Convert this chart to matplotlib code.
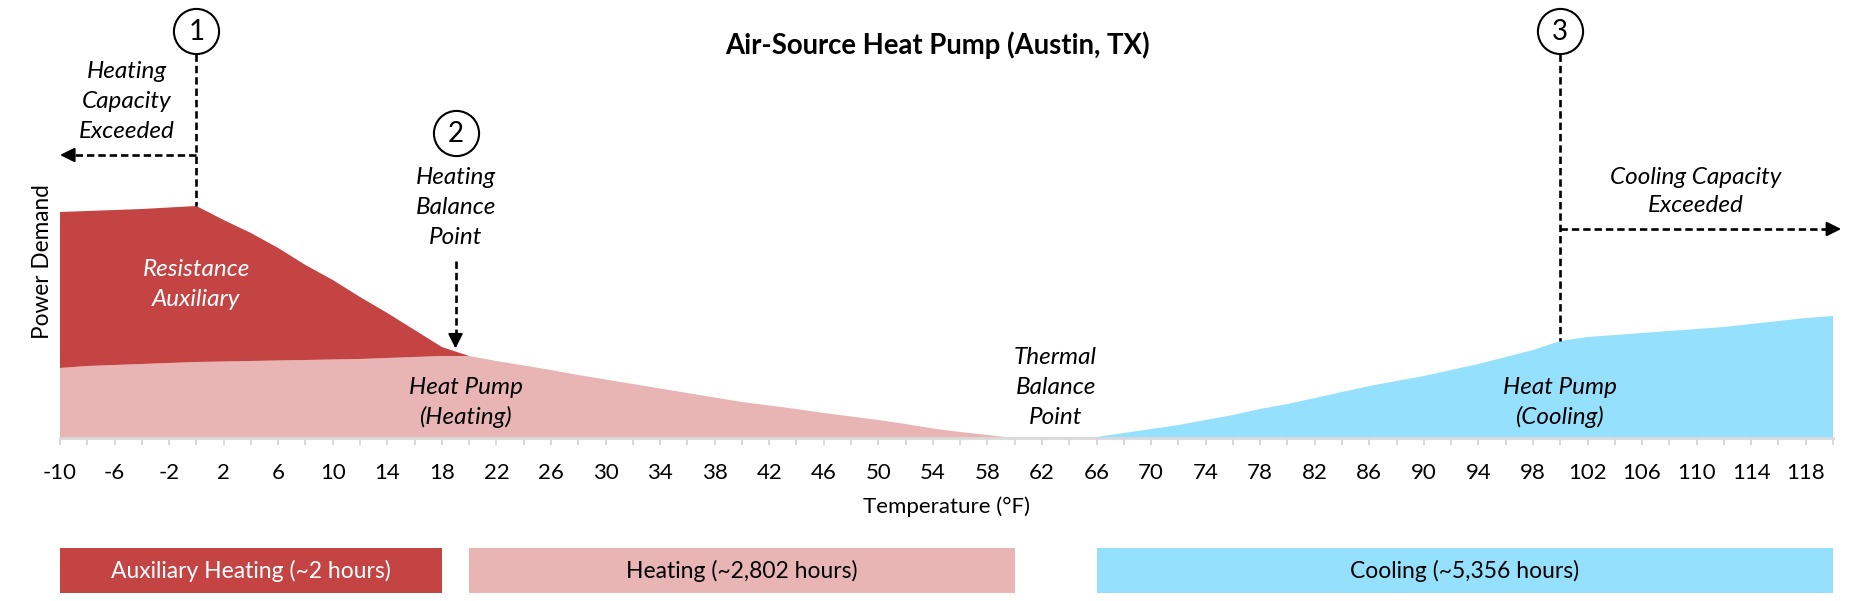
import numpy as np
import matplotlib
matplotlib.use("Agg")
import matplotlib.pyplot as plt

# ---------------- data ----------------
temps = list(range(-10, 122, 2))  # outdoor temperature categories (°F)

heat_pump_heating = [70, 72, 73, 74, 75, 76, 76.5, 77, 77.5, 78, 78.5, 79, 80, 81, 82, 82,
                     77, 72.5, 68, 63, 58.5, 54, 49.5, 45, 40.5, 36,
                     32.5, 29, 25, 21.5, 18, 14, 9.5, 6, 3, 0] + [0] * 30
resistance_aux = [156, 155, 155, 155, 155.5, 156, 141.5, 128, 112.5, 95, 79.5, 62, 45, 27, 9, 0] + [0] * 50
heat_pump_cooling = [0] * 37 + [0, 1, 5, 9, 13, 18, 23, 29, 34, 40, 46, 52, 57, 62, 68, 74, 81, 88,
                                97, 101, 103, 105, 107, 109, 111, 114, 117, 120, 122]

tick_labels = [str(t) if i % 2 == 0 else "" for i, t in enumerate(temps)]

band_labels = ["Auxiliary Heating (~2 hours)", "Heating (~2,802 hours)", "Cooling (~5,356 hours)"]
band_start = [-10, 20, 66]
band_end = [18, 60, 120]

callout_temps = [0, 19, 100]
callout_numbers = ["1", "2", "3"]

C_RED = "#C44444"
C_PINK = "#E8B4B4"
C_BLUE = "#95E1FD"
band_colors = [C_RED, C_PINK, C_BLUE]
band_text_colors = ["white", "black", "black"]

plt.rcParams["font.family"] = ["Lato", "DejaVu Sans"]

W, H = 1875, 601
fig = plt.figure(figsize=(W / 100, H / 100), dpi=100)

left_px, right_px, base_px = 60, 1833, 438
ax = fig.add_axes([left_px / W, (H - base_px) / H, (right_px - left_px) / W, base_px / H])
ax.set_xlim(temps[0], temps[-1])
ax.set_ylim(0, base_px)  # y units = pixels above baseline

total_heat = np.array(heat_pump_heating) + np.array(resistance_aux)
ax.stackplot(temps, heat_pump_heating, resistance_aux, heat_pump_cooling,
             colors=[C_PINK, C_RED, C_BLUE], linewidth=0)

for s in ["top", "right", "left"]:
    ax.spines[s].set_visible(False)
ax.spines["bottom"].set_color("#D9D9D9")
ax.spines["bottom"].set_linewidth(2.0)
ax.set_yticks([])
ax.set_xticks(temps)
ax.set_xticklabels(tick_labels)
ax.tick_params(axis="x", direction="out", length=5, width=1.4, color="#D9D9D9",
               labelsize=16, pad=13)
ax.set_xlabel("Temperature (°F)", fontsize=16, labelpad=10)
fig.text(43 / W, 1 - 262 / H, "Power Demand", rotation=90, fontsize=16.3,
         ha="center", va="center")

fig.text(0.5, 1 - 45 / H, "Air-Source Heat Pump (Austin, TX)", fontsize=19.8,
         fontweight="bold", ha="center", va="center")


def lines(x, y_top, txt, step=30, **kw):
    for i, t in enumerate(txt):
        ax.text(x, y_top - i * step, t, ha="center", va="center", fontsize=17.5,
                style="italic", **kw)


# area labels
lines(0, 168, ["Resistance", "Auxiliary"], color="white")
lines(19.8, 51, ["Heat Pump", "(Heating)"])
lines(63, 81, ["Thermal", "Balance", "Point"])
lines(100, 51, ["Heat Pump", "(Cooling)"])
lines(-5.1, 367, ["Heating", "Capacity", "Exceeded"])
lines(19, 261, ["Heating", "Balance", "Point"])
lines(109.9, 261, ["Cooling Capacity", "Exceeded"], step=29)

# callouts
circle_y = [407, 305, 407]
ax.plot(callout_temps, circle_y, "o", ms=32.5, mfc="white", mec="black", mew=1.5,
        clip_on=False, zorder=5)
for t, y, n in zip(callout_temps, circle_y, callout_numbers):
    ax.text(t, y - 1, n, ha="center", va="center", fontsize=20, zorder=6)

dash = dict(color="black", lw=1.9, dashes=(2.8, 1.5), clip_on=False, zorder=4)
head = dict(arrowstyle="-|>", color="black", lw=1.5, mutation_scale=22,
            shrinkA=0, shrinkB=0)
r = 22.7
# callout 1
peak = np.interp(callout_temps[0], temps, total_heat)
ax.plot([callout_temps[0]] * 2, [circle_y[0] - r, peak], **dash)
ax.plot([callout_temps[0], temps[0] + 0.9], [283, 283], **dash)
ax.annotate("", xy=(temps[0], 283), xytext=(temps[0] + 0.9, 283), arrowprops=head,
            annotation_clip=False)
# callout 2
tip = np.interp(callout_temps[1], temps, total_heat) + 3
ax.plot([callout_temps[1]] * 2, [177, tip + 12], **dash)
ax.annotate("", xy=(callout_temps[1], tip), xytext=(callout_temps[1], tip + 12),
            arrowprops=head, annotation_clip=False)
# callout 3
cool = np.interp(callout_temps[2], temps, heat_pump_cooling)
ax.plot([callout_temps[2]] * 2, [circle_y[2] - r, cool], **dash)
ax.plot([callout_temps[2], temps[-1] - 0.3], [209, 209], **dash)
ax.annotate("", xy=(temps[-1] + 0.6, 209), xytext=(temps[-1] - 0.3, 209), arrowprops=head,
            annotation_clip=False)

# bottom bands
ax2 = fig.add_axes([left_px / W, (H - 593) / H, (right_px - left_px) / W, 45 / H])
ax2.set_xlim(temps[0], temps[-1])
ax2.set_ylim(0, 1)
ax2.axis("off")
widths = [e - s for s, e in zip(band_start, band_end)]
ax2.barh(0.5, widths, left=band_start, height=1.0, color=band_colors, linewidth=0)
for s, e, lab, tc in zip(band_start, band_end, band_labels, band_text_colors):
    ax2.text((s + e) / 2, 0.5, lab, ha="center", va="center", fontsize=16.5, color=tc)

fig.savefig("out.png", dpi=100)
